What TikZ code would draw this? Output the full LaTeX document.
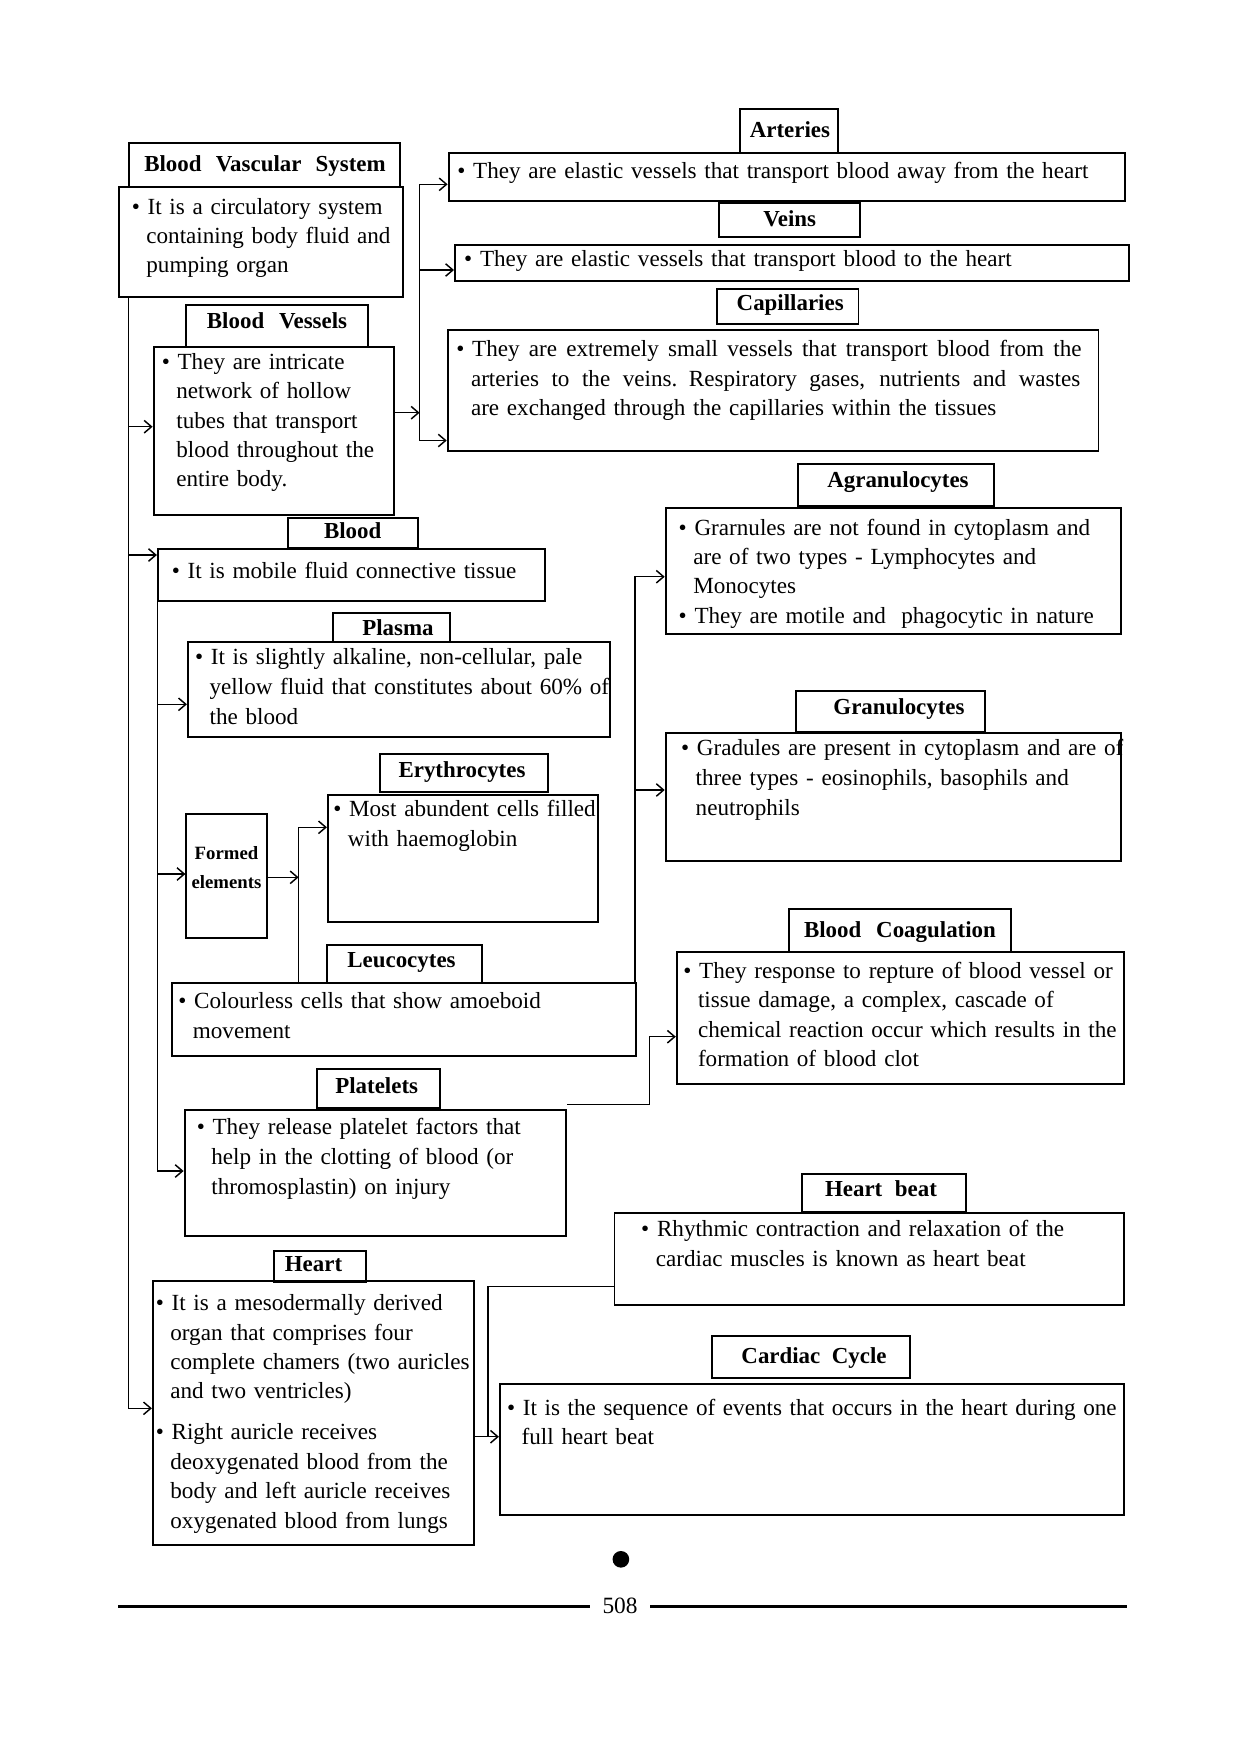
\documentclass[tikz,border=0pt]{standalone}
\usepackage{fontspec}
\setmainfont{Liberation Serif}
\usetikzlibrary{arrows.meta,fit}
\newcommand\myind{\hspace*{7pt}}
\newcommand\bu{\textbullet{} }
\newcommand\jline[2]{\hbox to #1{\spaceskip=0.25em plus 1em minus 0.08em\relax #2}}
\newcommand\yc[2]{\coordinate (#1) at (0,#2);}
\newcommand\xc[2]{\coordinate (#1) at (#2,0);}
\newcommand\bbox[5]{\node[bx, fit={(#2,#3) (#4,#5)}] (#1) {};}
\newcommand\ttl[8]{\node[bx, fit={(#2,#3) (#4,#5)}] (#1) {};\node[tt] (#1-t) at (#6,#7) {#8};}
\tikzset{
  bx/.style={draw, line width=0.95pt, inner sep=0pt},
  tt/.style={font=\fontsize{11}{13}\selectfont\bfseries, inner sep=0pt, anchor=base},
  bt/.style={font=\fontsize{11.1}{14.1}\selectfont, inner sep=0pt, anchor=base west, align=left},
  btw/.style={font=\fontsize{11.1}{14.4}\selectfont, inner sep=0pt, anchor=base west, align=left},
  conn/.style={line width=0.7pt},
  arr/.style={conn, -{Straight Barb[length=3.5pt,width=6pt]}},
}
\begin{document}
\begin{tikzpicture}[x=0.48pt,y=-0.48pt]
\path[use as bounding box] (0,0) rectangle (1240,1755);

% ---------- Blood Vascular System ----------
\ttl{bvs}{129.3}{143.3}{400}{187.3}{265}{171.7}{Blood\hspace{0.62em}Vascular\hspace{0.62em}System}
\bbox{bvsb}{118.6}{187.3}{402.9}{296.7}
\node[bt, text width=150pt] (bvst) at (131.4,214) {\bu It is a circulatory system\\\myind containing body fluid and\\\myind pumping organ};

% ---------- Arteries ----------
\ttl{art}{740.3}{109.3}{838.2}{152.7}{789.9}{137.3}{Arteries}
\bbox{artb}{448.6}{153.3}{1125.2}{200.7}
\node[bt, text width=330pt] (artt) at (457,178.3) {\bu They are elastic vessels that transport blood away from the heart};

% ---------- Veins ----------
\ttl{vn}{719}{202.7}{860.3}{236.7}{789.7}{226.7}{Veins}
\bbox{vnb}{455}{244.7}{1129}{280.7}
\node[bt, text width=330pt] (vnt) at (463.8,266.7) {\bu They are elastic vessels that transport blood to the heart};

% ---------- Capillaries ----------
\ttl{cap}{716.8}{289}{858.5}{324}{790.2}{310}{Capillaries}
\bbox{capb}{447.7}{330}{1098.5}{450.7}
\node[bt, text width=320pt] (capt) at (456,356.7) {\bu \jline{292.5pt}{They are extremely small vessels that transport blood from the}\\\myind\jline{292.5pt}{arteries to the veins. Respiratory gases, nutrients and wastes}\\\myind are exchanged through the capillaries within the tissues};

% ---------- Blood Vessels ----------
\ttl{bv}{185.7}{304.7}{367.9}{346.7}{277}{328.3}{Blood\hspace{0.65em}Vessels}
\bbox{bvb}{153.6}{347.3}{394.3}{515}
\node[bt, text width=135pt] (bvt) at (161.4,369.3) {\bu They are intricate\\\myind network of hollow\\\myind tubes that transport\\\myind blood throughout the\\\myind entire body.};

% ---------- Blood ----------
\ttl{bld}{287.9}{517.7}{417.9}{547.7}{352.7}{538.3}{Blood}
\bbox{bldb}{157.9}{548.7}{545}{600.7}
\node[bt, text width=200pt] (bldt) at (171.4,578.3) {\bu It is mobile fluid connective tissue};

% ---------- Agranulocytes ----------
\ttl{agr}{797.7}{464}{994}{506}{898}{487.7}{Agranulocytes}
\bbox{agrb}{665.7}{507.7}{1121}{633.7}
\node[bt, text width=240pt] (agrt) at (678.3,535) {\bu Grarnules are not found in cytoplasm and\\\myind are of two types - Lymphocytes and\\\myind Monocytes\\\bu They are motile and\ \ phagocytic in nature};

% ---------- Plasma ----------
\ttl{pls}{332.9}{612.7}{450}{642.3}{398}{635}{Plasma}
\bbox{plsb}{187.9}{642.3}{610}{736.7}
\node[btw, text width=230pt] (plst) at (194.6,664) {\bu It is slightly alkaline, non-cellular, pale\\\myind yellow fluid that constitutes about 60\% of\\\myind the blood};

% ---------- Granulocytes ----------
\ttl{grn}{795.7}{690.7}{985}{731.7}{899}{714.3}{Granulocytes}
\bbox{grnb}{665.7}{732.7}{1121}{860.7}
\node[btw, text width=245pt] (grnt) at (680.7,755) {\bu Gradules are present in cytoplasm and are of\\\myind three types - eosinophils, basophils and\\\myind neutrophils};

% ---------- Formed elements ----------
\bbox{frm}{186.4}{813.7}{267.1}{937.7}
\node[font=\fontsize{9}{13.9}\selectfont\bfseries, inner sep=0pt, anchor=base, align=center] (frmt) at (226.5,888.3) {Formed\\elements};

% ---------- Erythrocytes ----------
\ttl{ery}{379.6}{753.7}{547.9}{792.3}{462}{777.7}{Erythrocytes}
\bbox{eryb}{327.9}{794.7}{597.9}{922}
\node[btw, text width=150pt] (eryt) at (332.9,816.7) {\bu Most abundent cells filled\\\myind with haemoglobin};

% ---------- Leucocytes ----------
\ttl{leu}{326.8}{945}{482.1}{983.3}{401.5}{967.3}{Leucocytes}
\bbox{leub}{172.1}{983.3}{636.4}{1055.7}
\node[btw, text width=240pt] (leut) at (177.9,1008.3) {\bu Colourless cells that show amoeboid\\\myind movement};

% ---------- Blood Coagulation ----------
\ttl{cog}{788.6}{909.3}{1011.2}{951.7}{900}{937.7}{Blood\hspace{0.65em}Coagulation}
\bbox{cogb}{676.8}{952.3}{1124.4}{1084}
\node[bt, text width=240pt] (cogt) at (683,978.3) {\bu They response to repture of blood vessel or\\\myind tissue damage, a complex, cascade of\\\myind chemical reaction occur which results in the\\\myind formation of blood clot};

% ---------- Platelets ----------
\ttl{plt}{316.8}{1069}{440}{1108.3}{376.7}{1093.3}{Platelets}
\bbox{pltb}{184.6}{1110}{566.1}{1235.7}
\node[btw, text width=200pt] (pltt) at (196.4,1134) {\bu They release platelet factors that\\\myind help in the clotting of blood (or\\\myind thromosplastin) on injury};

% ---------- Heart beat ----------
\ttl{hb}{801.8}{1173.7}{965.9}{1211.7}{881}{1196}{Heart\hspace{0.55em}beat}
\bbox{hbb}{614.5}{1212.7}{1124.4}{1305}
\node[bt, text width=250pt] (hbt) at (640.8,1236.7) {\bu Rhythmic contraction and relaxation of the\\\myind cardiac muscles is known as heart beat};

% ---------- Heart ----------
\ttl{hrt}{274.3}{1250.7}{366.4}{1281.7}{313.5}{1271.7}{Heart}
\bbox{hrtb}{152.9}{1280.7}{473.9}{1545}
\node[bt, text width=180pt] (hrtt) at (155.4,1310.7) {\bu It is a mesodermally derived\\\myind organ that comprises four\\\myind complete chamers (two auricles\\\myind and two ventricles)\\[5.6pt]\bu Right auricle receives\\\myind deoxygenated blood from the\\\myind body and left auricle receives\\\myind oxygenated blood from lungs};

% ---------- Cardiac Cycle ----------
\ttl{cdc}{711.8}{1335.7}{910.2}{1377.7}{814}{1363.3}{Cardiac\hspace{0.5em}Cycle}
\bbox{cdb}{499.9}{1384}{1124.3}{1515}
\node[bt, text width=310pt] (cdt) at (506.7,1415) {\bu \jline{285pt}{It is the sequence of events that occurs in the heart during one}\\\myind full heart beat};

% ---------- connectors ----------
% main trunk
\xc{tk}{128.6}
\yc{ya}{426.7}\yc{yb}{555}\yc{yc}{1408.3}
\draw[arr] (tk |- bvsb.south) |- (hrtb.west |- yc);
\draw[arr] (tk |- ya) -- (bvb.west |- ya);
\draw[arr] (tk |- yb) -- (bldb.west |- yb);
% blood sub-trunk
\xc{st}{157.4}
\yc{yd}{704.3}\yc{ye}{874}\yc{yf}{1171}
\draw[arr] (st |- bldb.south) |- (pltb.west |- yf);
\draw[arr] (st |- yd) -- (plsb.west |- yd);
\draw[arr] (st |- ye) -- (frm.west |- ye);
% vessels branch
\xc{br}{419.6}
\yc{yg}{412.7}\yc{yh}{184.3}\yc{yi}{270}\yc{yj}{440.5}
\draw[arr] (bvb.east |- yg) -- (br |- yg);
\draw[arr] (br |- yj) |- (artb.west |- yh);
\draw[arr] (br |- yi) -- (vnb.west |- yi);
\draw[arr] (br |- yj) -- (capb.west |- yj);
% formed elements
\xc{fx}{298.6}
\yc{yk}{877.3}\yc{yl}{827.3}
\draw[arr] (frm.east |- yk) -- (fx |- yk);
\draw[arr] (fx |- leub.north) |- (eryb.west |- yl);
% leucocytes to agranulocytes / granulocytes
\xc{lx}{634.8}
\yc{ym}{576.7}\yc{yn}{790}
\draw[arr] (lx |- leub.north) |- (agrb.west |- ym);
\draw[arr] (lx |- yn) -- (grnb.west |- yn);
% platelets to coagulation
\xc{px}{649.5}
\yc{yo}{1104.5}\yc{yp}{1036.7}
\draw[arr] (pltb.east |- yo) -| (px |- yp) -- (cogb.west |- yp);
% heart to cardiac cycle, heart beat
\xc{hx}{488.2}
\yc{yq}{1286.7}\yc{yr}{1436.7}
\draw[conn] (hbb.west |- yq) -| (hx |- yr);
\draw[arr] (hrtb.east |- yr) -- (cdb.west |- yr);

% ---------- footer ----------
\node[circle, fill=black, inner sep=0pt, minimum size=8pt] (dot) at (620.9,1559.3) {};
\node[font=\fontsize{11.2}{13}\selectfont, inner sep=0pt, anchor=base] (pg) at (620,1613.5) {508};
\coordinate (fl) at (118,1606.7);
\coordinate (fr) at (1126.7,1606.7);
\draw[line width=1.2pt] (fl) -- ([xshift=-6pt]pg.west |- fl);
\draw[line width=1.2pt] ([xshift=6pt]pg.east |- fr) -- (fr);
\end{tikzpicture}
\end{document}
